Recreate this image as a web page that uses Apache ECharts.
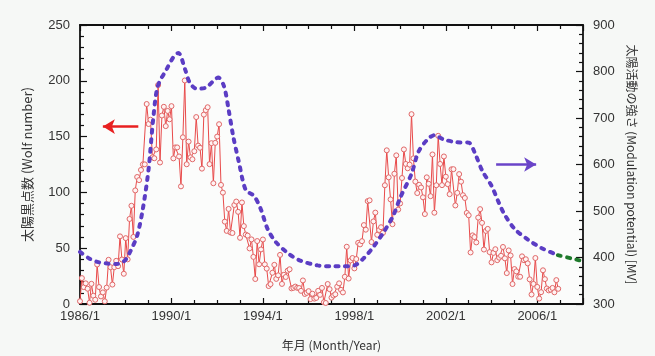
<!DOCTYPE html>
<html><head><meta charset="utf-8">
<script src="https://cdn.jsdelivr.net/npm/echarts@6/dist/echarts.min.js"></script>
<style>html,body{margin:0;padding:0;background:#fff;}#c{position:absolute;left:0;top:0;width:655px;height:356px;}</style>
</head><body><div id="c"></div>
<script>
// Monthly sunspot (Wolf) numbers, Jan..Dec, starting 1986
const startYear = 1986;
const sunspots = [
 [2.5,23.2,15.1,18.5,13.7,1.1,18.1,7.4,3.8,35.4,15.2,6.8],          // 1986
 [10.4,2.4,14.7,39.6,33.0,17.4,33.0,38.7,33.9,60.6,39.9,27.1],       // 1987
 [59.0,40.0,76.2,88.0,60.1,101.8,113.8,111.0,120.1,125.1,125.1,179.2],// 1988
 [161.3,165.1,131.4,130.6,138.5,196.2,126.8,168.9,176.7,159.4,173.0,165.5], // 1989
 [177.3,130.5,140.3,140.3,132.2,105.4,149.4,200.3,125.2,145.5,131.4,129.7], // 1990
 [136.9,167.5,141.9,140.0,121.3,169.7,173.7,176.3,125.3,144.1,108.2,144.4], // 1991
 [150.0,161.1,106.7,99.8,73.8,65.5,85.2,64.1,63.6,88.7,91.8,82.6],   // 1992
 [59.3,91.0,69.8,62.2,61.3,49.8,57.9,42.2,22.4,56.4,35.6,48.9],      // 1993
 [57.8,35.5,31.7,16.1,17.8,28.0,35.1,22.5,25.7,44.0,18.0,26.2],      // 1994
 [24.2,29.9,31.1,14.0,14.5,15.6,14.5,14.3,11.8,21.1,9.0,10.0],       // 1995
 [11.5,4.4,9.2,4.8,5.5,11.8,8.2,14.4,1.6,0.9,17.9,13.3],             // 1996
 [5.7,7.6,8.7,15.5,18.5,12.7,10.4,24.4,51.3,22.8,39.0,41.2],         // 1997
 [31.9,40.3,54.8,53.4,56.3,70.7,66.6,92.2,92.9,55.5,74.0,81.9],      // 1998
 [62.0,66.3,68.8,63.7,106.4,137.7,113.5,93.7,71.5,116.7,133.2,84.6], // 1999
 [90.1,112.9,138.5,125.5,121.6,124.9,170.1,130.5,109.7,99.4,106.8,104.4], // 2000
 [95.6,80.6,113.5,107.7,96.6,134.0,81.8,106.4,150.7,125.5,106.5,132.2],   // 2001
 [114.1,107.4,98.4,120.7,120.8,88.3,99.6,116.4,109.6,97.5,95.0,81.6],     // 2002
 [79.5,46.2,61.5,60.0,55.2,77.4,85.0,72.7,48.8,65.5,67.3,46.5],      // 2003
 [37.3,45.8,49.1,39.3,41.5,43.2,51.1,40.9,27.7,48.0,43.5,17.9],      // 2004
 [31.3,29.2,24.5,24.4,42.7,39.3,40.1,36.4,22.1,8.5,18.0,41.2],       // 2005
 [15.3,4.9,10.6,30.2,22.3,13.9,12.2,12.9,14.4,10.5,21.4,13.6]        // 2006
];
// Modulation potential [MV] (decimal year, value)
const modulation = [
 [1986.0,412],[1986.4,398],[1986.8,390],[1987.2,387],[1987.6,386],[1987.95,393],
 [1988.2,413],[1988.5,447],[1988.75,505],[1989.0,590],[1989.2,697],[1989.4,768],
 [1989.8,806],[1990.1,832],[1990.3,840],[1990.6,804],[1990.8,776],[1991.1,763],
 [1991.5,765],[1991.8,778],[1992.05,787],[1992.3,768],[1992.5,718],[1992.7,661],
 [1992.95,605],[1993.25,545],[1993.6,533],[1993.9,505],[1994.2,462],[1994.55,434],
 [1995.1,409],[1995.6,394],[1996.4,383],[1997.1,381],[1997.5,381],[1998.0,383],
 [1998.4,398],[1998.85,424],[1999.3,456],[1999.7,490],[2000.0,528],[2000.5,580],
 [2000.8,627],[2001.2,654],[2001.5,663],[2001.9,654],[2002.45,648],[2003.0,647],
 [2003.25,627],[2003.6,586],[2004.0,554],[2004.3,520],[2004.55,494],[2005.0,462],
 [2005.6,438],[2006.2,420],[2006.9,405]
];
const modulationExt = [[2006.9,405],[2007.5,398],[2008.0,392]];
const xTicks = {min:1986, max:2008, step:4, lastLabel:2006};
const yLeft = {min:0, max:250, step:50};
const yRight = {min:300, max:900, step:100};
const arrowLeft = [[1988.55,159],[1987.0,159]];
const arrowRight = [[2004.2,600],[2005.95,600]];

const spData = [];
sunspots.forEach((row, i) => row.forEach((v, m) => spData.push([startYear + i + m/12, v])));

const font = 'Liberation Sans, Arial, sans-serif';
const cjk = '"Noto Sans CJK JP", "Liberation Sans", sans-serif';
const axisLine = {show:true, lineStyle:{color:'#111', width:1.8}};
const chart = echarts.init(document.getElementById('c'));
const xBase = {
  type:'value', min:xTicks.min, max:xTicks.max, interval:xTicks.step,
  axisLine, splitLine:{show:false},
  axisTick:{show:true, inside:true, length:6, lineStyle:{color:'#111', width:1.2}},
  minorTick:{show:true, splitNumber:4, length:4, lineStyle:{color:'#111', width:1.2}}
};
const yBase = (o) => Object.assign({
  type:'value', axisLine, splitLine:{show:false},
  axisTick:{show:true, inside:true, length:7, lineStyle:{color:'#111', width:1.2}},
  minorTick:{show:true, splitNumber:5, length:4, lineStyle:{color:'#111', width:1.2}},
  axisLabel:{color:'#333', fontSize:13, fontFamily:font, margin:10}
}, o);

chart.setOption({
  backgroundColor:'#f6f8f6',
  animation:false,
  grid:{left:80, right:72, top:25, bottom:50, show:true, backgroundColor:'#fbfcfb', borderWidth:0},
  xAxis:[
    Object.assign({}, xBase, {position:'bottom',
      axisLabel:{color:'#333', fontSize:13, fontFamily:font, margin:6,
        formatter:v=> v > xTicks.lastLabel ? '' : v+'/1'},
      name:'年月 (Month/Year)', nameLocation:'middle', nameGap:35,
      nameTextStyle:{color:'#333', fontSize:12, fontFamily:cjk}}),
    Object.assign({}, xBase, {position:'top', axisLabel:{show:false}})
  ],
  yAxis:[
    yBase({min:yLeft.min, max:yLeft.max, interval:yLeft.step, position:'left',
      name:'太陽黒点数 (Wolf number)', nameLocation:'middle', nameGap:46,
      nameTextStyle:{color:'#333', fontSize:13, fontFamily:cjk}}),
    yBase({min:yRight.min, max:yRight.max, interval:yRight.step, position:'right',
      name:'太陽活動の強さ (Modulation potential) [MV]', nameLocation:'middle', nameGap:42, nameRotate:-90,
      nameTextStyle:{color:'#333', fontSize:12, fontFamily:cjk}})
  ],
  series:[
    {type:'line', xAxisIndex:0, yAxisIndex:0, data:spData, z:3,
     lineStyle:{color:'#e84a4a', width:1},
     symbol:'circle', symbolSize:5,
     itemStyle:{color:'#fff3f3', borderColor:'#e06868', borderWidth:1},
     markLine:{silent:true, symbol:['none','arrow'], symbolSize:[11,12], label:{show:false},
       lineStyle:{color:'#e82020', width:2.5, type:'solid'},
       data:[[{coord:arrowLeft[0]},{coord:arrowLeft[1]}]]}},
    {type:'line', xAxisIndex:0, yAxisIndex:1, data:modulation, smooth:0.3, showSymbol:false, z:4,
     lineStyle:{color:'#5b3dc4', width:4, type:[3,6.5], cap:'round'},
     markLine:{silent:true, symbol:['none','arrow'], symbolSize:[11,12], label:{show:false},
       lineStyle:{color:'#6a44c8', width:2.5, type:'solid'},
       data:[[{coord:arrowRight[0]},{coord:arrowRight[1]}]]}},
    {type:'line', xAxisIndex:0, yAxisIndex:1, data:modulationExt, smooth:0.3, showSymbol:false, z:4,
     lineStyle:{color:'#1f7a2c', width:4, type:[3,6.5], cap:'round'}}
  ]
});
</script></body></html>
